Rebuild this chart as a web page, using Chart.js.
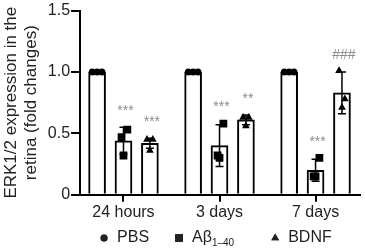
<!DOCTYPE html>
<html>
<head>
<meta charset="utf-8">
<script src="https://cdn.jsdelivr.net/npm/chart.js@4"></script>
<style>
html, body { margin: 0; padding: 0; background: #fff; }
#wrap { width: 365px; height: 248px; }
</style>
</head>
<body>
<div id="wrap"><canvas id="erkChart"></canvas></div>
<script>
var categories = ['24 hours', '3 days', '7 days'];
var groups = ['PBS', 'Aβ', 'BDNF'];
var groupSubs = ['', '1–40', ''];
var meanPBS = [1.0, 1.0, 1.0];
var meanAb = [0.44, 0.40, 0.20];
var meanBDNF = [0.42, 0.61, 0.83];
var sdPBS = [0, 0, 0];
var sdAb = [0.11, 0.17, 0.09];
var sdBDNF = [0.04, 0.04, 0.17];
var pointsPBS = [[1.0, 1.0, 1.0], [1.0, 1.0, 1.0], [1.0, 1.0, 1.0]];
var pointsAb = [[0.53, 0.47, 0.32], [0.58, 0.32, 0.30], [0.30, 0.15, 0.15]];
var pointsBDNF = [[0.45, 0.45, 0.36], [0.63, 0.63, 0.56], [1.01, 0.78, 0.71]];
var sigAb = ['***', '***', '***'];
var sigBDNF = ['***', '**', '###'];
var yTicks = [0, 0.5, 1.0, 1.5];

// layout inside each time point (x axis units, 1 = one time point)
var groupOffset = [-0.275, 0, 0.275];
var jitter = [[-0.05, 0, 0.05], [0.04, -0.02, 0], [-0.03, 0.03, 0]];
var pointStyles = ['circle', 'rect', 'triangle'];
var pointSizes = [3.5, 5.5, 4.5];

var means = [meanPBS, meanAb, meanBDNF];
var sds = [sdPBS, sdAb, sdBDNF];
var points = [pointsPBS, pointsAb, pointsBDNF];
var sigs = [null, sigAb, sigBDNF];

var datasets = [];
groups.forEach(function (g, k) {
    datasets.push({
        type: 'bar',
        label: g,
        data: means[k].map(function (v, i) { return { x: i + groupOffset[k], y: v }; }),
        errors: sds[k],
        sig: sigs[k],
        pts: points[k],
        grouped: false,
        barThickness: 17,
        backgroundColor: '#fff',
        borderColor: '#000',
        borderWidth: 2,
        order: 2
    });
});
groups.forEach(function (g, k) {
    var d = [];
    points[k].forEach(function (arr, i) {
        arr.forEach(function (v, j) {
            d.push({ x: i + groupOffset[k] + jitter[k][j], y: v });
        });
    });
    datasets.push({
        type: 'scatter',
        label: g + ' points',
        data: d,
        pointStyle: pointStyles[k],
        pointRadius: pointSizes[k],
        backgroundColor: '#000',
        borderColor: '#000',
        borderWidth: 0,
        order: 1
    });
});

var errorBars = {
    id: 'errorBars',
    afterDatasetDraw: function (chart, args) {
        var ds = chart.data.datasets[args.index];
        if (!ds.errors) return;
        var ctx = chart.ctx, xs = chart.scales.x, ys = chart.scales.y;
        ctx.save();
        ctx.strokeStyle = '#000';
        ctx.lineWidth = 1.5;
        ds.data.forEach(function (p, i) {
            var sd = ds.errors[i];
            if (!sd) return;
            var px = xs.getPixelForValue(p.x);
            var top = ys.getPixelForValue(p.y + sd);
            var bot = ys.getPixelForValue(p.y - sd);
            ctx.beginPath();
            ctx.moveTo(px, top); ctx.lineTo(px, bot);
            ctx.moveTo(px - 4, top); ctx.lineTo(px + 4, top);
            ctx.moveTo(px - 4, bot); ctx.lineTo(px + 4, bot);
            ctx.stroke();
        });
        ctx.restore();
    }
};

var sigLabels = {
    id: 'sigLabels',
    afterDatasetsDraw: function (chart) {
        var ctx = chart.ctx, xs = chart.scales.x, ys = chart.scales.y;
        ctx.save();
        ctx.fillStyle = '#8c8c8c';
        ctx.font = '14px "Liberation Sans", Arial, sans-serif';
        ctx.textAlign = 'center';
        ctx.textBaseline = 'middle';
        chart.data.datasets.forEach(function (ds) {
            if (!ds.sig) return;
            ds.data.forEach(function (p, i) {
                var top = Math.max(p.y + ds.errors[i], Math.max.apply(null, ds.pts[i]));
                ctx.fillText(ds.sig[i], xs.getPixelForValue(p.x) + 2, ys.getPixelForValue(top) - 16);
            });
        });
        ctx.restore();
    }
};

var bottomLegend = {
    id: 'bottomLegend',
    afterDraw: function (chart) {
        var ctx = chart.ctx;
        var gaps = [26, 37];
        var x = chart.chartArea.left + 20;
        var y = 238;
        ctx.save();
        ctx.fillStyle = '#222';
        ctx.textBaseline = 'middle';
        ctx.textAlign = 'left';
        groups.forEach(function (g, k) {
            Chart.helpers.drawPoint(ctx, {
                pointStyle: pointStyles[k],
                radius: pointSizes[k],
                borderWidth: 0
            }, x + 4, y);
            ctx.fill();
            x += 17;
            ctx.font = '16px "Liberation Sans", Arial, sans-serif';
            ctx.fillText(g, x, y);
            x += ctx.measureText(g).width;
            if (groupSubs[k]) {
                ctx.font = '10px "Liberation Sans", Arial, sans-serif';
                ctx.fillText(groupSubs[k], x, y + 5);
                x += ctx.measureText(groupSubs[k]).width;
            }
            x += gaps[k] || 0;
        });
        ctx.restore();
    }
};

var ctx = document.getElementById('erkChart').getContext('2d');
var erkChart = new Chart(ctx, {
    type: 'bar',
    data: { datasets: datasets },
    plugins: [errorBars, sigLabels, bottomLegend],
    options: {
        responsive: true,
        maintainAspectRatio: false,
        animation: false,
        layout: { padding: { top: -4, right: 2, bottom: 25, left: 1 } },
        plugins: {
            legend: { display: false },
            tooltip: { enabled: false }
        },
        scales: {
            x: {
                type: 'linear',
                offset: false,
                min: -0.4524,
                max: 2.4576,
                afterBuildTicks: function (scale) {
                    scale.ticks = categories.map(function (c, i) { return { value: i }; });
                },
                grid: { drawOnChartArea: false, offset: false, color: '#000', lineWidth: 2, tickLength: 7 },
                border: { color: '#000', width: 2 },
                ticks: {
                    padding: 1,
                    color: '#222',
                    font: { family: '"Liberation Sans", Arial, sans-serif', size: 16 },
                    callback: function (v) { return categories[v]; }
                }
            },
            y: {
                min: 0,
                max: 1.5,
                afterBuildTicks: function (scale) {
                    scale.ticks = yTicks.map(function (v) { return { value: v }; });
                },
                grid: { drawOnChartArea: false, color: '#000', lineWidth: 2, tickLength: 9 },
                border: { color: '#000', width: 2 },
                ticks: {
                    padding: 1,
                    color: '#222',
                    font: { family: '"Liberation Sans", Arial, sans-serif', size: 16 },
                    callback: function (v) { return v === 0 ? '0' : v.toFixed(1); }
                },
                title: {
                    display: true,
                    text: ['ERK1/2 expression in the', 'retina (fold changes)'],
                    color: '#222',
                    padding: { top: 0, bottom: 5 },
                    font: { family: '"Liberation Sans", Arial, sans-serif', size: 17 }
                }
            }
        }
    }
});
</script>
</body>
</html>
